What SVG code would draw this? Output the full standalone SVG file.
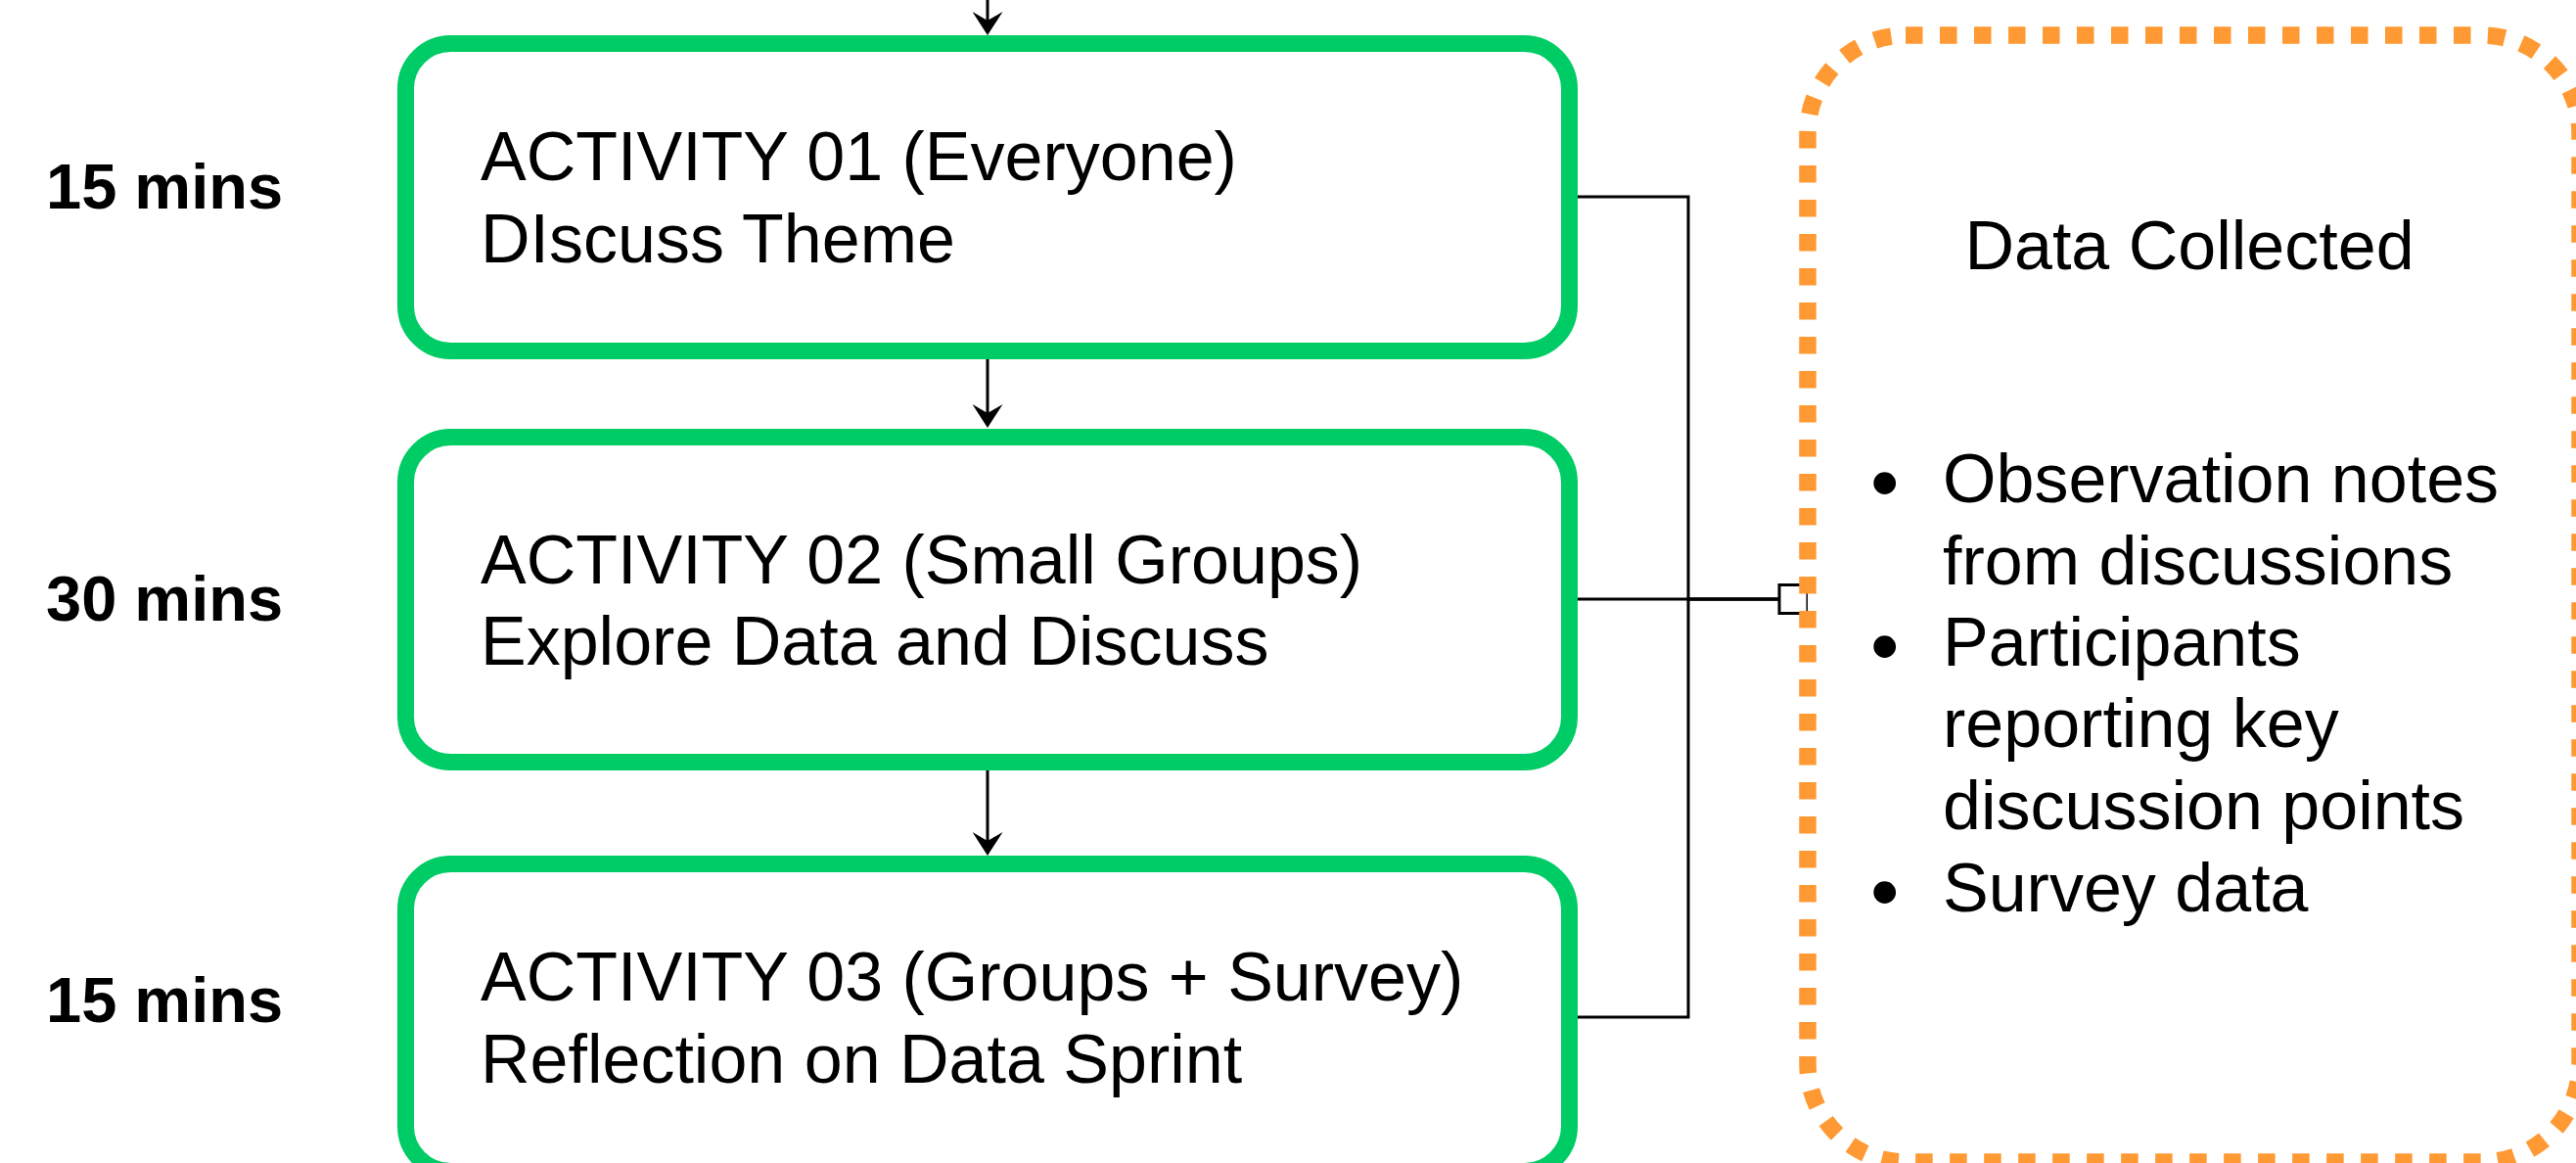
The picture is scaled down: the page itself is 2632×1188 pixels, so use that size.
<svg xmlns="http://www.w3.org/2000/svg" width="2632" height="1188" viewBox="0 0 2632 1188">
  <style>
    .act { fill: #FFFFFF; stroke: #00CC66; stroke-width: 17; }
    .txt { font-family: "Liberation Sans", Arial, Helvetica, sans-serif; font-size: 70px; fill: #000000; }
    .bul { font-family: "Liberation Sans", Arial, Helvetica, sans-serif; font-size: 84px; fill: #000000; }
    .dur { font-family: "Liberation Sans", Arial, Helvetica, sans-serif; font-size: 65px; font-weight: bold; fill: #000000; }
    .conn { fill: none; stroke: #000000; stroke-width: 3; }
    .data { fill: #FFFFFF; stroke: #FF9933; stroke-width: 17.5; stroke-dasharray: 17.5 17.5; }
  </style>
  <defs>
    <marker id="arrow" markerUnits="userSpaceOnUse" markerWidth="24" markerHeight="31" viewBox="0 0 24 31" refX="14" refY="15.5" orient="auto">
      <path d="M0,0 L24,15.5 L0,31 L9,15.5 Z" fill="#000000"/>
    </marker>
    <marker id="box" markerUnits="userSpaceOnUse" markerWidth="33" markerHeight="33" viewBox="-2 -2 33 33" refX="0" refY="14.5" orient="auto">
      <rect x="0" y="0" width="29" height="29" fill="none" stroke="#000000" stroke-width="3"/>
    </marker>
  </defs>

  <g id="durations">
    <text class="dur" x="47" y="213">15 mins</text>
    <text class="dur" x="47" y="634">30 mins</text>
    <text class="dur" x="47" y="1044">15 mins</text>
  </g>

  <g id="connectors">
    <path class="conn" d="M1009,0 V26" marker-end="url(#arrow)"/>
    <path class="conn" d="M1009,367 V427" marker-end="url(#arrow)"/>
    <path class="conn" d="M1009,787 V864" marker-end="url(#arrow)"/>
    <path class="conn" d="M1612,201 H1725 V612 H1818"/>
    <path class="conn" d="M1612,1039 H1725 V612 H1818"/>
    <path class="conn" d="M1612,612 H1818" marker-end="url(#box)"/>
  </g>

  <g id="activity1">
    <rect class="act" x="414.5" y="44.5" width="1189" height="314" rx="46" ry="46"/>
    <text class="txt" x="491" y="184">ACTIVITY 01 (Everyone)</text>
    <text class="txt" x="491" y="268">DIscuss Theme</text>
  </g>

  <g id="activity2">
    <rect class="act" x="414.5" y="446.5" width="1189" height="332" rx="46" ry="46"/>
    <text class="txt" x="491" y="596">ACTIVITY 02 (Small Groups)</text>
    <text class="txt" x="491" y="679">Explore Data and Discuss</text>
  </g>

  <g id="activity3">
    <rect class="act" x="414.5" y="882.5" width="1189" height="314" rx="46" ry="46"/>
    <text class="txt" x="491" y="1022">ACTIVITY 03 (Groups + Survey)</text>
    <text class="txt" x="491" y="1106">Reflection on Data Sprint</text>
  </g>

  <g id="data-collected">
    <rect class="data" x="1847" y="36" width="789" height="1151" rx="100" ry="100"/>
    <text class="txt" x="2237" y="275" text-anchor="middle">Data Collected</text>
    <text class="bul" x="1911" y="521">•</text>
    <text class="txt" x="1985" y="513">Observation notes</text>
    <text class="txt" x="1985" y="597">from discussions</text>
    <text class="bul" x="1911" y="688">•</text>
    <text class="txt" x="1985" y="680">Participants</text>
    <text class="txt" x="1985" y="763">reporting key</text>
    <text class="txt" x="1985" y="847">discussion points</text>
    <text class="bul" x="1911" y="939">•</text>
    <text class="txt" x="1985" y="931">Survey data</text>
  </g>
</svg>
